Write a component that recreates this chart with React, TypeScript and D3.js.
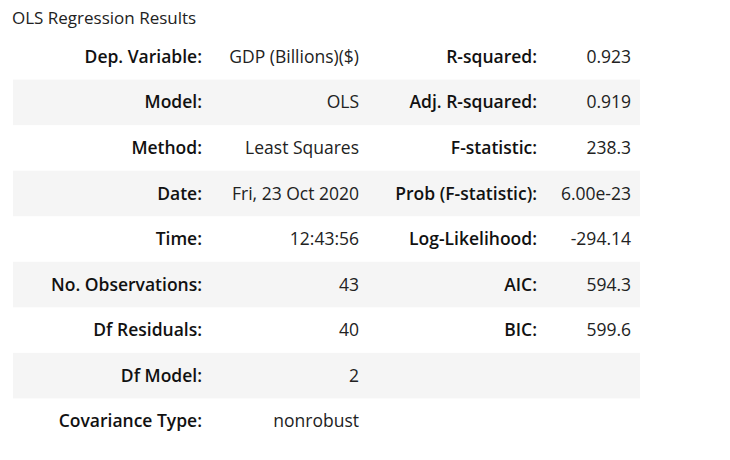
import React from "react";
import * as d3 from "d3";

const leftLabels = ["Dep. Variable:", "Model:", "Method:", "Date:", "Time:", "No. Observations:", "Df Residuals:", "Df Model:", "Covariance Type:"];
const leftValues = ["GDP (Billions)($)", "OLS", "Least Squares", "Fri, 23 Oct 2020", "12:43:56", "43", "40", "2", "nonrobust"];
const rightLabels = ["R-squared:", "Adj. R-squared:", "F-statistic:", "Prob (F-statistic):", "Log-Likelihood:", "AIC:", "BIC:", "", ""];
const rightValues = ["0.923", "0.919", "238.3", "6.00e-23", "-294.14", "594.3", "599.6", "", ""];
const title = "OLS Regression Results";

export default function App() {
  const y = d3.scaleBand<number>().domain(d3.range(leftLabels.length)).range([34, 444]);
  const font = "'Open Sans', 'Noto Sans', sans-serif";
  const fs = 17.5;
  return (
    <svg width={730} height={460} style={{ position: "absolute", left: 0, top: 0, background: "#fff" }} fontFamily={font}>
      <text x={12} y={24} fontSize={17} fill="#222">{title}</text>
      {leftLabels.map((l, i) => {
        const yc = (y(i) as number) + y.bandwidth() / 2;
        return (
          <g key={i}>
            {i % 2 === 1 && <rect x={13} y={y(i)} width={627} height={y.bandwidth()} fill="#f5f5f5" />}
            <text x={202} y={yc} dy="0.35em" textAnchor="end" fontWeight={600} fontSize={fs} fill="#111">{l}</text>
            <text x={359} y={yc} dy="0.35em" textAnchor="end" fontSize={fs} fill="#222">{leftValues[i]}</text>
            <text x={537} y={yc} dy="0.35em" textAnchor="end" fontWeight={600} fontSize={fs} fill="#111">{rightLabels[i]}</text>
            <text x={631} y={yc} dy="0.35em" textAnchor="end" fontSize={fs} fill="#222">{rightValues[i]}</text>
          </g>
        );
      })}
    </svg>
  );
}
